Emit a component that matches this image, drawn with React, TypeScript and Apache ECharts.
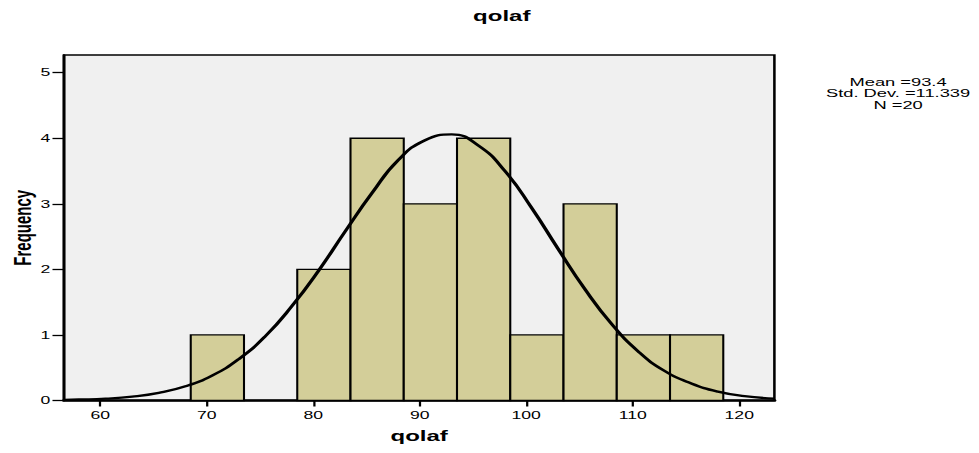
import React, { useEffect, useRef } from "react";
import * as echarts from "echarts";

// Histogram bins (lower edges), bin width and frequencies
const binStarts = [68.5, 73.5, 78.5, 83.5, 88.5, 93.5, 98.5, 103.5, 108.5, 113.5];
const binWidth = 5;
const frequencies = [1, 0, 2, 4, 3, 4, 1, 3, 1, 1];

// Normal curve, points
const curveX = [56.6, 58, 60.5, 63, 65.5, 68, 70.5, 73, 75.5, 78, 80.5, 83, 85.5, 88, 90.5, 93, 95.5, 98, 100.5, 103, 105.5, 108, 110.5, 113, 115.5, 118, 120.5, 123.3];
const curveY = [0.01, 0.015, 0.028, 0.058, 0.116, 0.216, 0.38, 0.63, 0.98, 1.44, 1.98, 2.58, 3.16, 3.67, 3.97, 4.06, 3.89, 3.5, 2.94, 2.31, 1.7, 1.17, 0.75, 0.45, 0.26, 0.135, 0.067, 0.028];

// Axes
const xTickValues = [60, 70, 80, 90, 100, 110, 120];
const yTickValues = [0, 1, 2, 3, 4, 5];
const xMin = 56.6;
const xMax = 123.3;
const yMin = 0;
const yMax = 5.27;

const titleText = "qolaf";
const xAxisTitle = "qolaf";
const yAxisTitle = "Frequency";
const statsLines = ["Mean =93.4", "Std. Dev. =11.339", "N =20"];

const STRETCH = 1.6;
const W = 612;
const H = 453;

export default function App() {
  const ref = useRef<HTMLDivElement>(null);

  useEffect(() => {
    if (!ref.current) return;
    const chart = echarts.init(ref.current, undefined, { renderer: "svg", width: W, height: H });

    const barData = binStarts.map((s, i) => [s, s + binWidth, frequencies[i]]);
    const curveData = curveX.map((x, i) => [x, curveY[i]]);
    const font = "'Liberation Sans', Arial, sans-serif";

    chart.setOption({
      animation: false,
      backgroundColor: "#ffffff",
      title: {
        text: titleText,
        left: 313.6,
        top: 8,
        padding: 0,
        textAlign: "center",
        textStyle: { fontFamily: font, fontSize: 15, fontWeight: "bold", color: "#000" },
      },
      grid: {
        left: 40,
        right: W - 484,
        top: 55,
        bottom: 52.5,
        show: true,
        backgroundColor: "#f0f0f0",
        borderColor: "#000",
        borderWidth: 1.6,
        containLabel: false,
        outerBoundsMode: "none",
      },
      xAxis: {
        type: "value",
        min: xMin,
        max: xMax,
        name: xAxisTitle,
        nameLocation: "middle",
        nameGap: 28,
        nameMoveOverlap: false,
        nameTextStyle: { fontFamily: font, fontSize: 15, fontWeight: "bold", color: "#000" },
        axisLine: { show: true, onZero: false, lineStyle: { color: "#000", width: 2.6 } },
        axisTick: { show: true, length: 6, customValues: xTickValues, lineStyle: { color: "#000", width: 1.4 } },
        axisLabel: { customValues: xTickValues, margin: 9, fontFamily: font, fontSize: 11, color: "#000" },
        splitLine: { show: false },
      },
      yAxis: {
        type: "value",
        min: yMin,
        max: yMax,
        name: yAxisTitle,
        nameLocation: "middle",
        nameRotate: 90,
        nameGap: 18.5,
        nameMoveOverlap: false,
        nameTextStyle: { fontFamily: font, fontSize: 15, fontWeight: "bold", color: "#000" },
        axisLine: { show: true, onZero: false, lineStyle: { color: "#000", width: 1.7 } },
        axisTick: { show: true, length: 7.2, customValues: yTickValues, lineStyle: { color: "#000", width: 1.3 } },
        axisLabel: { customValues: yTickValues, margin: 8.5, fontFamily: font, fontSize: 11, color: "#000" },
        splitLine: { show: false },
      },
      graphic: [
        {
          type: "text",
          x: 561.3,
          y: 75.8,
          scaleX: 1.09,
          style: {
            text: statsLines.join("\n"),
            textAlign: "center",
            textVerticalAlign: "top",
            fontFamily: font,
            fontSize: 10.5,
            lineHeight: 11.8,
            fill: "#000",
          },
        },
      ],
      series: [
        {
          type: "custom",
          name: "bars",
          data: barData,
          encode: { x: [0, 1], y: 2 },
          renderItem: (params: any, api: any) => {
            const h = api.value(2);
            if (!h) return null;
            const p0 = api.coord([api.value(0), h]);
            const p1 = api.coord([api.value(1), 0]);
            return {
              type: "rect",
              shape: { x: p0[0], y: p0[1], width: p1[0] - p0[0], height: p1[1] - p0[1] },
              style: { fill: "#d3ce99", stroke: "#000", lineWidth: 1.3 },
            };
          },
          z: 2,
        },
        {
          type: "line",
          name: "normal",
          data: curveData,
          smooth: true,
          showSymbol: false,
          symbol: "none",
          lineStyle: { color: "#000", width: 2.3 },
          z: 3,
        },
      ],
    });

    return () => chart.dispose();
  }, []);

  return (
    <div
      ref={ref}
      style={{
        position: "absolute",
        left: 0,
        top: 0,
        width: W,
        height: H,
        transform: `scaleX(${STRETCH})`,
        transformOrigin: "0 0",
        background: "#fff",
      }}
    />
  );
}
